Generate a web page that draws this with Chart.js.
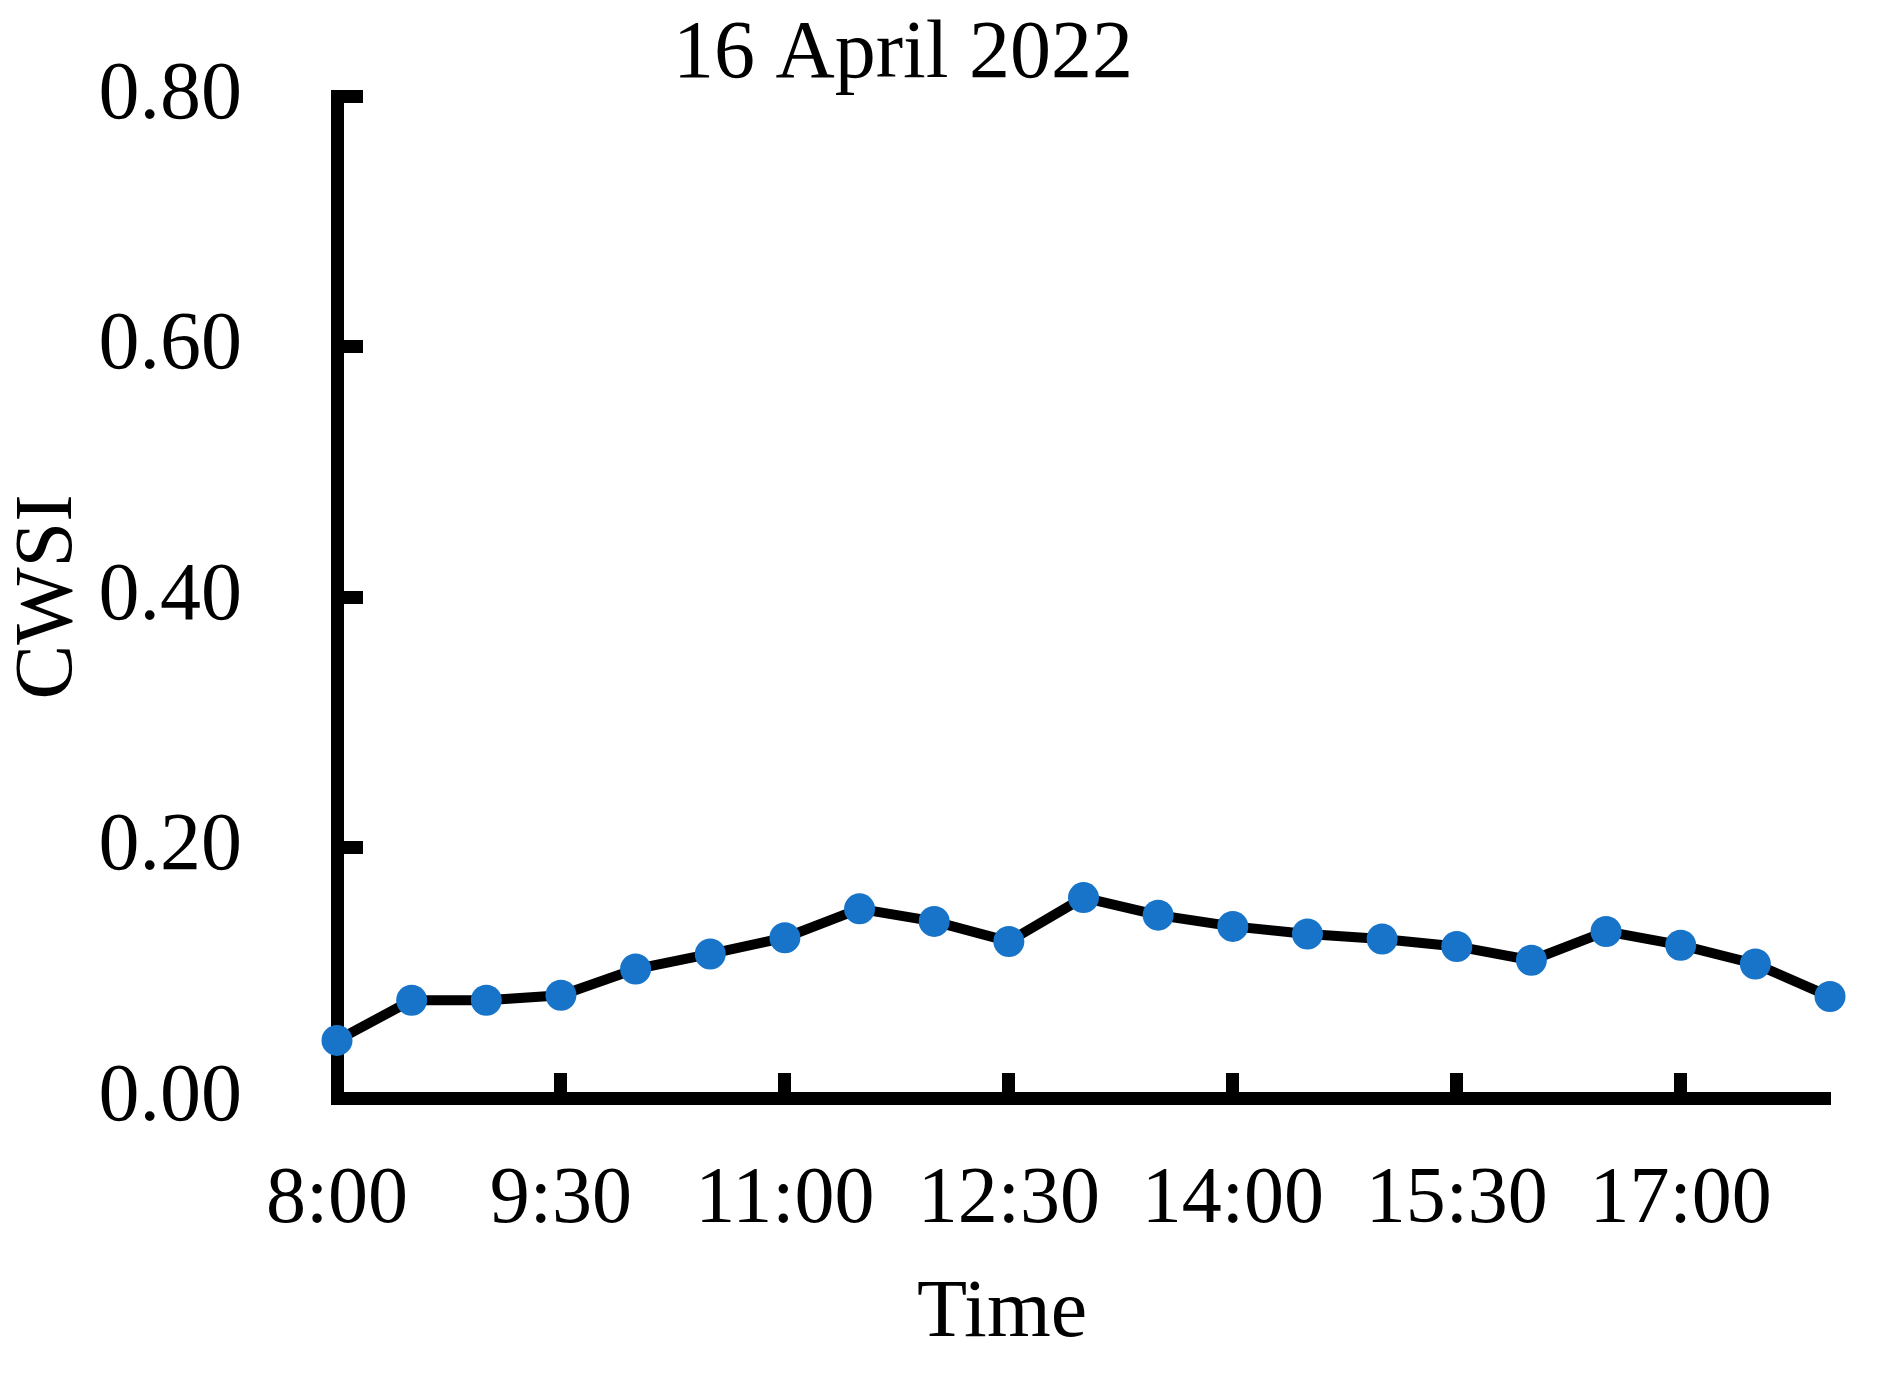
<!DOCTYPE html>
<html>
<head>
<meta charset="utf-8">
<script src="https://cdn.jsdelivr.net/npm/chart.js@4.4.0/dist/chart.umd.min.js"></script>
<style>
  html, body { margin: 0; padding: 0; background: #fff; }
  #wrap { width: 1882px; height: 1375px; position: relative; }
</style>
</head>
<body>
<div id="wrap"><canvas id="cwsiChart"></canvas></div>
<script>
// half-hourly readings, 8:00 - 18:00
const timeLabels = ['8:00', '8:30', '9:00', '9:30', '10:00', '10:30', '11:00', '11:30', '12:00', '12:30',
  '13:00', '13:30', '14:00', '14:30', '15:00', '15:30', '16:00', '16:30', '17:00', '17:30', '18:00'];
const cwsiValues = [0.046, 0.078, 0.078, 0.082, 0.103, 0.115, 0.128, 0.151, 0.141, 0.125,
  0.160, 0.146, 0.137, 0.131, 0.127, 0.121, 0.110, 0.133, 0.122, 0.107, 0.081];
const yTicks = [0, 0.2, 0.4, 0.6, 0.8];
const chartTitle = '16 April 2022';
const xTitle = 'Time';
const yTitle = 'CWSI';

const FONT = "'Liberation Serif', 'Times New Roman', serif";
const tickEvery = 3;

// title and x axis label sit off-centre in the original, so draw them here
const textPlugin = {
  id: 'figureText',
  afterDraw(chart) {
    const ctx = chart.ctx;
    ctx.save();
    ctx.fillStyle = '#000';
    ctx.textBaseline = 'alphabetic';
    ctx.textAlign = 'center';
    ctx.font = '82px ' + FONT;
    ctx.fillText(chartTitle, 903, 77);
    ctx.fillText(xTitle, 1002, 1336);
    ctx.restore();
  }
};

const ctx = document.getElementById('cwsiChart').getContext('2d');
new Chart(ctx, {
  type: 'line',
  data: {
    labels: timeLabels,
    datasets: [{
      label: yTitle,
      data: cwsiValues,
      borderColor: '#000',
      borderWidth: 10,
      backgroundColor: '#1874c8',
      pointBackgroundColor: '#1874c8',
      pointBorderWidth: 0,
      pointRadius: 15.5,
      pointHoverRadius: 15.5,
      tension: 0,
      clip: false,
    }],
  },
  options: {
    responsive: true,
    maintainAspectRatio: false,
    animation: false,
    layout: { padding: { left: 0, top: 96, right: 52, bottom: 0 } },
    plugins: {
      legend: { display: false },
      tooltip: { enabled: false },
      title: { display: false },
    },
    scales: {
      x: {
        type: 'category',
        offset: false,
        border: { display: true, color: '#000', width: 13 },
        grid: {
          display: true,
          drawOnChartArea: false,
          drawTicks: true,
          tickLength: -25,
          tickWidth: 13,
          tickColor: (c) => (c.index % tickEvery === 0 ? '#000' : 'rgba(0,0,0,0)'),
        },
        ticks: {
          autoSkip: false,
          maxRotation: 0,
          minRotation: 0,
          padding: 80,
          color: '#000',
          font: { family: FONT, size: 80 },
          callback: function (value, index) {
            return index % tickEvery === 0 ? this.getLabelForValue(value) : '';
          },
        },
        afterFit: (scale) => {
          scale.height = 277;
          scale.paddingLeft = 0;
          scale.paddingRight = 0;
        },
      },
      y: {
        min: yTicks[0],
        max: yTicks[yTicks.length - 1],
        border: { display: true, color: '#000', width: 13 },
        grid: {
          display: true,
          drawOnChartArea: false,
          drawTicks: true,
          tickLength: -26,
          tickWidth: 13,
          tickColor: '#000',
        },
        afterBuildTicks: (scale) => { scale.ticks = yTicks.map(v => ({ value: v })); },
        ticks: {
          padding: 121,
          color: '#000',
          font: { family: FONT, size: 82 },
          callback: (v) => Number(v).toFixed(2),
        },
        title: {
          display: true,
          text: yTitle,
          color: '#000',
          font: { family: FONT, size: 82 },
          padding: { top: 0, bottom: 0 },
        },
        afterFit: (scale) => {
          scale.width = 337;
          scale.paddingTop = 0;
          scale.paddingBottom = 0;
        },
      },
    },
  },
  plugins: [textPlugin],
});
</script>
</body>
</html>
